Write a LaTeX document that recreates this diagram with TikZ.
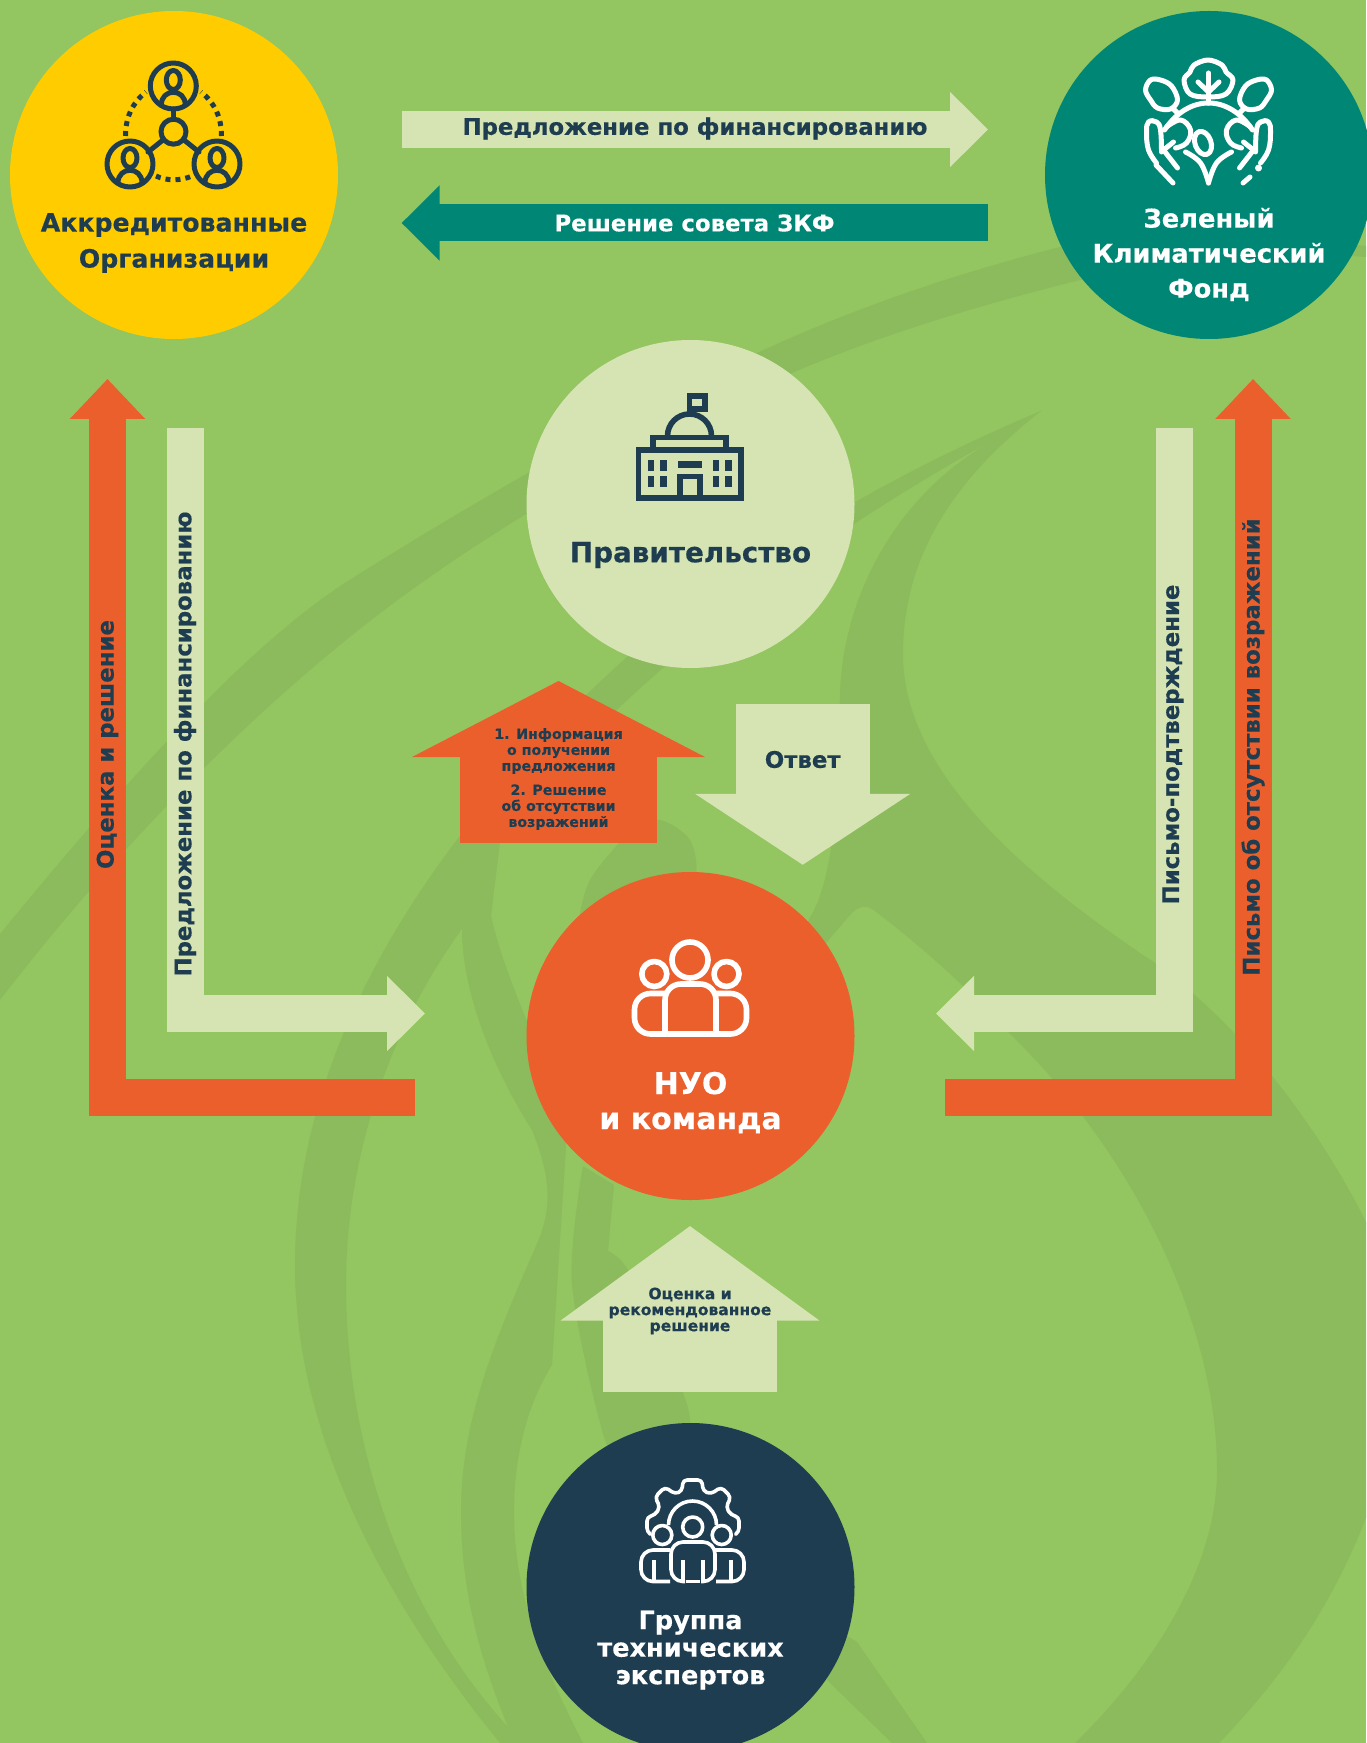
\documentclass[tikz,border=0pt]{standalone}
\usepackage{fontspec}
\setmainfont{DejaVu Sans}[BoldFeatures={FakeBold=0.35}]
\usetikzlibrary{arrows.meta, positioning}
\definecolor{meadow}{RGB}{147,197,96}
\definecolor{swirlgreen}{RGB}{139,187,92}
\definecolor{paleleaf}{RGB}{213,228,178}
\definecolor{sunyellow}{RGB}{255,204,0}
\definecolor{fundteal}{RGB}{0,134,117}
\definecolor{flame}{RGB}{235,95,45}
\definecolor{inknavy}{RGB}{30,61,80}

\begin{document}
\begin{tikzpicture}[x=0.5pt, y=-0.5pt,
  hub/.style={circle, inner sep=0pt, minimum size=164pt},
  hubtext/.style 2 args={align=center, inner sep=0pt, font=\bfseries\fontsize{#1}{#2}\selectfont},
  flowtext/.style={inner sep=0pt, text=inknavy, font=\bfseries\fontsize{11.4}{13}\selectfont},
  smalltext/.style={align=center, inner sep=0pt, text=inknavy, font=\bfseries\fontsize{#1}{8}\selectfont},
  thinflow/.style={line width=18.5pt, -{Triangle[length=19pt, width=36.5pt]}},
  icon/.style={line width=2.5pt, line cap=round, line join=round},
  swirl/.style={fill=swirlgreen}
]
\useasboundingbox (0,0) rectangle (1366,1743);
\fill[meadow] (0,0) rectangle (1366,1743);

% --- Hintergrund ---
\begin{scope}
\clip (0,0) rectangle (1366,1743);
% langes Band oben
\fill[swirl] (1366,246) .. controls (1250,232) and (1150,225) .. (1060,247)
  .. controls (950,275) and (850,310) .. (757,353)
  .. controls (650,400) and (460,510) .. (348,581)
  .. controls (240,650) and (110,800) .. (0,934)
  -- (0,1000)
  .. controls (100,870) and (230,730) .. (370,621)
  .. controls (500,520) and (650,440) .. (792,373)
  .. controls (880,335) and (980,305) .. (1080,280)
  .. controls (1170,255) and (1270,250) .. (1366,257) -- cycle;
% Sichel von der Spitze nach unten
\fill[swirl] (1041,411) .. controls (900,470) and (760,550) .. (627,657)
  .. controls (490,780) and (295,1000) .. (295,1265)
  .. controls (295,1450) and (400,1620) .. (500,1743)
  -- (508,1727)
  .. controls (410,1620) and (346,1460) .. (346,1284)
  .. controls (346,1150) and (395,1020) .. (462,929)
  -- (500,842)
  .. controls (600,700) and (800,545) .. (999,437) -- cycle;
% grosses Blatt rechts
\fill[swirl] (1041,411) .. controls (940,490) and (903,570) .. (903,654)
  .. controls (903,760) and (1000,860) .. (1155,963)
  .. controls (1260,1040) and (1330,1150) .. (1366,1222)
  -- (1380,1222) -- (1380,1518) -- (1366,1518)
  .. controls (1330,1610) and (1280,1680) .. (1219,1743)
  -- (1075,1743)
  .. controls (1150,1670) and (1217,1570) .. (1217,1470)
  .. controls (1217,1320) and (1130,1150) .. (1010,1034)
  .. controls (970,990) and (920,945) .. (875,911)
  .. controls (866,904) and (858,906) .. (850,915)
  -- (790,985) -- (809,919)
  .. controls (835,880) and (840,780) .. (840,690)
  .. controls (845,590) and (900,490) .. (999,437) -- cycle;
% Band unter dem Team-Kreis
\fill[swirl] (462,929) .. controls (462,1000) and (500,1080) .. (532,1130)
  .. controls (552,1180) and (552,1210) .. (536,1246)
  .. controls (495,1340) and (461,1420) .. (461,1512)
  .. controls (461,1600) and (485,1670) .. (508,1727)
  -- (500,1743) -- (583,1743)
  .. controls (540,1660) and (514,1590) .. (514,1512)
  .. controls (514,1450) and (530,1400) .. (552,1365)
  -- (566,1147)
  .. controls (565,1090) and (510,1000) .. (491,916)
  -- (500,842) -- cycle;
\fill[swirl] plot[smooth] coordinates {(577,930) (590,880) (633,829) (660,820) (687,836) (696,860) (695,900)} -- (640,960) -- cycle;
\fill[swirl] plot[smooth] coordinates {(583,1166) (572,1284) (605,1440) (640,1500)}
  -- plot[smooth] coordinates {(690,1424) (683,1393) (631,1275) (608,1251)} -- (614,1185) -- cycle;
\fill[swirl] (831,1626) -- (857,1642) -- (927,1743) -- (892,1743) -- (827,1680) -- cycle;
\end{scope}

% --- Kreise ---
\node[hub, fill=sunyellow] (org) at (174,175) {};
\node[hub, fill=fundteal] (fund) at (1209,175) {};
\node[hub, fill=paleleaf] (gov) at (690.5,504) {};
\node[hub, fill=flame] (team) at (690.5,1036) {};
\node[hub, fill=inknavy] (experts) at (690.5,1587) {};

% --- Endpunkte der Pfeile ---
\coordinate (proposalstart) at (401.6,129.5);
\coordinate (proposalend) at (988,129.5);
\coordinate (boardstart) at (988,223);
\coordinate (boardend) at (401.6,223);
\coordinate (orgreview) at (415,1097);
\coordinate (orgreviewtip) at (107.5,379);
\coordinate (orgproposal) at (185.7,428);
\coordinate (orgproposaltip) at (425,1013.5);
\coordinate (fundletter) at (945,1097);
\coordinate (fundlettertip) at (1253,379);
\coordinate (fundconfirm) at (1174.5,428);
\coordinate (fundconfirmtip) at (936,1013.5);
\coordinate (infostart) at (558.5,842.7);
\coordinate (infotip) at (558.5,681);
\coordinate (replystart) at (802.7,704.3);
\coordinate (replytip) at (802.7,864.8);
\coordinate (advicestart) at (690,1391.5);
\coordinate (advicetip) at (690,1226);

% --- Pfeile ---
\draw[thinflow, paleleaf] (proposalstart) -- (proposalend);
\draw[thinflow, fundteal] (boardstart) -- (boardend);
\draw[thinflow, flame, -{Triangle[length=20pt, width=36.5pt]}] (orgreview) -| (orgreviewtip);
\draw[thinflow, paleleaf] (orgproposal) |- (orgproposaltip);
\draw[thinflow, flame, -{Triangle[length=20pt, width=36.5pt]}] (fundletter) -| (fundlettertip);
\draw[thinflow, paleleaf] (fundconfirm) |- (fundconfirmtip);
\draw[flame, line width=98.5pt, -{Triangle[length=38pt, width=145pt]}] (infostart) -- (infotip);
\draw[paleleaf, line width=67pt, -{Triangle[length=35.5pt, width=106pt]}] (replystart) -- (replytip);
\draw[paleleaf, line width=87pt, -{Triangle[length=47.25pt, width=127pt]}] (advicestart) -- (advicetip);

% --- Texte ---
\node[hubtext={12.6}{18}, text=inknavy] (orgtext) at (174,243) {Аккредитованные\\Организации};
\node[hubtext={12.85}{17.5}, text=white] (fundtext) at (1209,254.5) {Зеленый\\Климатический\\Фонд};
\node[hubtext={13.9}{18}, text=inknavy] (govtext) at (690.5,555) {Правительство};
\node[hubtext={15}{17.5}, text=white] (teamtext) at (690.5,1102.5) {НУО\\и команда};
\node[hubtext={12.8}{13.75}, text=white] (expertstext) at (690.5,1650) {Группа\\технических\\экспертов};

\node[flowtext] (proposaltext) at (695,128.5) {Предложение по финансированию};
\node[flowtext, text=white] (boardtext) at (694.5,223) {Решение совета ЗКФ};
\node[flowtext, rotate=90] (reviewtext) at (107.5,744.5) {Оценка и решение};
\node[flowtext, rotate=90] (orgproposaltext) at (185,744) {Предложение по финансированию};
\node[flowtext, rotate=90] (confirmtext) at (1173,744.5) {Письмо-подтверждение};
\node[flowtext, rotate=90] (lettertext) at (1253,747) {Письмо об отсутствии возражений};
\node[smalltext=7.1] (infotext) at (558.5,779) {1. Информация\\о получении\\предложения\\[4pt]2. Решение\\об отсутствии\\возражений};
\node[flowtext] (replytext) at (802.7,759.5) {Ответ};
\node[smalltext=7.75] (advicetext) at (690,1311) {Оценка и\\рекомендованное\\решение};

% --- Symbol: Organisationen ---
\begin{scope}[inknavy, icon]
\foreach \px/\py in {173.3/86, 130/164, 217/164} {
  \draw (\px,\py) circle (23);
  \draw (\px,\py-6) ellipse (7 and 9.5);
  \draw (\px-12,\py+19) .. controls (\px-12,\py+2) and (\px+12,\py+2) .. (\px+12,\py+19);
}
\draw (173.5,131.7) circle (12.5);
\draw (173.5,119) -- (173.5,109);
\draw (163,140) -- (148,152);
\draw (184,140) -- (199,152);
\draw[line cap=butt, dash pattern=on 2.5pt off 2.5pt] (125.5,136) .. controls (125.5,118) and (132,103) .. (146,92);
\draw[line cap=butt, dash pattern=on 2.5pt off 2.5pt] (221.5,136) .. controls (221.5,118) and (215,103) .. (201,92);
\draw[line cap=butt, dash pattern=on 2.5pt off 2.5pt] (156,176) .. controls (166,181) and (181,181) .. (192,176);
\end{scope}

% --- Symbol: Fonds ---
\begin{scope}[white, icon]
\draw plot[smooth cycle, tension=.6] coordinates {(1208,60) (1222,65) (1226,72) (1233,80) (1226,94) (1208,97) (1190,94) (1184,80) (1190,72) (1194,65)};
\draw (1208.5,73) -- (1208.5,103);
\draw (1198,82) -- (1208.5,92) -- (1219,82);
\foreach \s in {1,-1} {
  \begin{scope}[shift={(1208.5,0)}, xscale=\s]
  \draw plot[smooth cycle, tension=.6] coordinates {(-58,80) (-48,80) (-37,86) (-31,100) (-38,109) (-51,108) (-58,100) (-63,90)};
  \draw (-36,108) -- (-31,113);
  \draw (-44,130) .. controls (-32,112) and (-16,103) .. (0,103);
  \draw plot[smooth, tension=.7] coordinates {(-42,127) (-28,120) (-18,130) (-22,143) (-33,148)};
  \draw plot[smooth, tension=.7] coordinates {(-23,152) (-8,163) (0,183)};
  \draw plot[smooth, tension=.7] coordinates {(-47,152) (-48,130) (-52,122) (-60,122) (-62,132) (-60,150) (-52,163)};
  \draw (-45,150) -- (-31,168);
  \draw (-45,150) -- (-35,142);
  \end{scope}
}
\draw (1156,165) -- (1173,183);
\draw (1243,183) -- (1250,177);
\draw[fill=white] (1258.5,168) circle (1);
\draw[rotate around={20:(1203,143)}] (1203,143) ellipse (8 and 12);
\end{scope}

% --- Symbol: Regierung ---
\begin{scope}[inknavy, line width=2.8pt]
\draw (638.5,450) rectangle (741,498);
\draw (653,450) -- (653,437.5) -- (726,437.5) -- (726,450);
\draw (667.5,436) arc[start angle=180, end angle=0, x radius=22, y radius=-22];
\draw (689.5,416) -- (689.5,396) -- (705,396) -- (705,409) -- (689.5,409);
\fill (678,460.5) rectangle (702,468);
\draw (680,498) -- (680,476.5) -- (700,476.5) -- (700,498);
\foreach \wx in {647.5,660,712.5,725} {
  \foreach \wy in {460,476} {
    \fill (\wx,\wy) rectangle +(6.7,11);
  }
}
\end{scope}

% --- Symbol: Team ---
\begin{scope}[white, line width=2.8pt, line join=round]
\draw (690,960) circle (18);
\draw (654.3,974) circle (12.5);
\draw (726.5,974) circle (12.5);
\draw[rounded corners=8pt] (665,993.5) -- (634.5,993.5) -- (634.5,1034) -- (746.5,1034) -- (746.5,993.5) -- (716,993.5);
\draw[rounded corners=8pt] (665,1034) -- (665,984) -- (716,984) -- (716,1034);
\end{scope}

% --- Symbol: Experten ---
\begin{scope}[white, line width=1.8pt, line join=round]
\draw[rounded corners=2pt] (650,1534) -- (647,1532) -- (647,1517) -- (655,1515)
  -- (660,1507) -- (655,1497) -- (665,1487) -- (675,1494) -- (682,1491) -- (683,1480) -- (702,1480) -- (703,1491) -- (711,1494)
  -- (721,1487) -- (731,1497) -- (726,1507) -- (731,1515) -- (739,1517) -- (739,1532) -- (736,1534);
\draw (668.5,1525) arc[start angle=180, end angle=0, x radius=24, y radius=-24];
\draw (692.7,1527) circle (10);
\draw (662.3,1535) circle (9.5);
\draw (721.7,1535) circle (9.5);
\draw[rounded corners=6pt] (670,1550) -- (641,1550) -- (641,1581.5) -- (670,1581.5);
\draw[rounded corners=6pt] (715,1550) -- (744,1550) -- (744,1581.5) -- (716,1581.5);
\draw[rounded corners=6pt] (685,1581.5) -- (671,1581.5) -- (671,1542) -- (715,1542) -- (715,1581.5) -- (701,1581.5);
\draw (654,1560) -- (654,1581.5);
\draw (731,1560) -- (731,1581.5);
\draw (683,1560) -- (683,1580);
\draw (703,1560) -- (703,1580);
\draw (686,1581.5) -- (700,1581.5);
\end{scope}
\end{tikzpicture}
\end{document}
